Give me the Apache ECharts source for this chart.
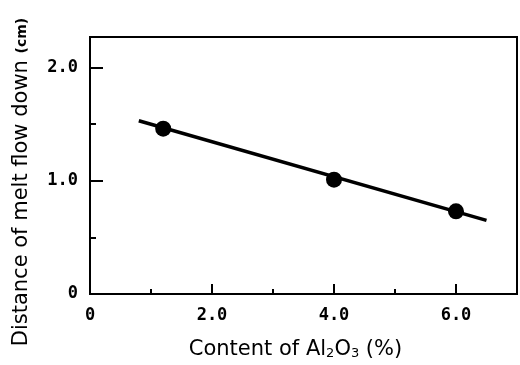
<!DOCTYPE html>
<html>
<head>
<meta charset="utf-8">
<script src="https://cdn.jsdelivr.net/npm/echarts@6/dist/echarts.min.js"></script>
<style>
html,body{margin:0;padding:0;background:#fff;}
#c{width:520px;height:365px;}
</style>
</head>
<body>
<div id="c"></div>
<script>
// Data
const pointX = [1.2, 4.0, 6.0];
const pointY = [1.46, 1.01, 0.73];
const fitX = [0.8, 6.5];
const fitY = [1.53, 0.65];
const xMajorTicks = [0, 2, 4, 6];
const yMajorTicks = [0, 1, 2];
const xTitle = 'Content of Al{sub|2}O{sub|3} (%)';
const yTitleMain = 'Distance of melt flow down ';
const yTitleUnit = '(cm)';

const X_MIN = 0, X_MAX = 7, Y_MIN = 0, Y_MAX = 2.27;

const tickFont = {
  color: '#000', fontFamily: 'DejaVu Sans Mono', fontWeight: 'bold', fontSize: 17
};
function fmt(v) { return v === 0 ? '0' : v.toFixed(1); }

const chart = echarts.init(document.getElementById('c'), null, {renderer: 'canvas'});
chart.setOption({
  animation: false,
  backgroundColor: '#fff',
  grid: {
    left: 90, right: 3, top: 37, bottom: 69,
    show: true, borderColor: '#000', borderWidth: 2, backgroundColor: 'transparent'
  },
  xAxis: [
    {
      type: 'value', min: X_MIN, max: X_MAX, interval: 2,
      axisLine: {show: true, lineStyle: {color: '#000', width: 2}},
      axisTick: {show: true, inside: true, length: 10, lineStyle: {color: '#000', width: 2}},
      splitLine: {show: false},
      axisLabel: Object.assign({
        margin: 13,
        formatter: v => xMajorTicks.indexOf(v) >= 0 ? fmt(v) : ''
      }, tickFont),
      name: xTitle,
      nameLocation: 'middle',
      nameGap: 45,
      nameTextStyle: {
        color: '#000', fontFamily: 'DejaVu Sans', fontSize: 21,
        padding: [0, 16, 0, 0],
        rich: {sub: {fontFamily: 'DejaVu Sans', fontSize: 13, color: '#000', verticalAlign: 'bottom', padding: [7, 0, 0, 0]}}
      }
    },
    {
      type: 'value', min: X_MIN, max: X_MAX, interval: 1, position: 'bottom',
      axisLine: {show: false},
      axisTick: {show: true, inside: true, length: 5, lineStyle: {color: '#000', width: 2}},
      splitLine: {show: false},
      axisLabel: {show: false}
    }
  ],
  yAxis: [
    {
      type: 'value', min: Y_MIN, max: Y_MAX, interval: 1,
      axisLine: {show: true, lineStyle: {color: '#000', width: 2}},
      axisTick: {show: true, inside: true, length: 13, lineStyle: {color: '#000', width: 2}},
      splitLine: {show: false},
      axisLabel: Object.assign({
        margin: 12,
        formatter: v => yMajorTicks.indexOf(v) >= 0 ? fmt(v) : ''
      }, tickFont)
    },
    {
      type: 'value', min: Y_MIN, max: Y_MAX, interval: 0.5, position: 'left',
      axisLine: {show: false},
      axisTick: {show: true, inside: true, length: 6, lineStyle: {color: '#000', width: 2}},
      splitLine: {show: false},
      axisLabel: {show: false}
    }
  ],
  graphic: [
    {
      type: 'text', x: 22, y: 182, rotation: Math.PI / 2,
      style: {
        text: '{m|' + yTitleMain + '}{u|' + yTitleUnit + '}',
        align: 'center', verticalAlign: 'middle',
        rich: {
          m: {fontFamily: 'DejaVu Sans', fontSize: 21, fill: '#000'},
          u: {fontFamily: 'DejaVu Sans', fontSize: 14, fill: '#000', fontWeight: 'bold'}
        }
      }
    }
  ],
  series: [
    {
      type: 'line', xAxisIndex: 0, yAxisIndex: 0,
      data: fitX.map((x, i) => [x, fitY[i]]),
      showSymbol: false, symbol: 'none',
      lineStyle: {color: '#000', width: 3.5}
    },
    {
      type: 'scatter', xAxisIndex: 0, yAxisIndex: 0,
      data: pointX.map((x, i) => [x, pointY[i]]),
      symbol: 'circle', symbolSize: 16,
      itemStyle: {color: '#000', opacity: 1}
    }
  ]
});
</script>
</body>
</html>
